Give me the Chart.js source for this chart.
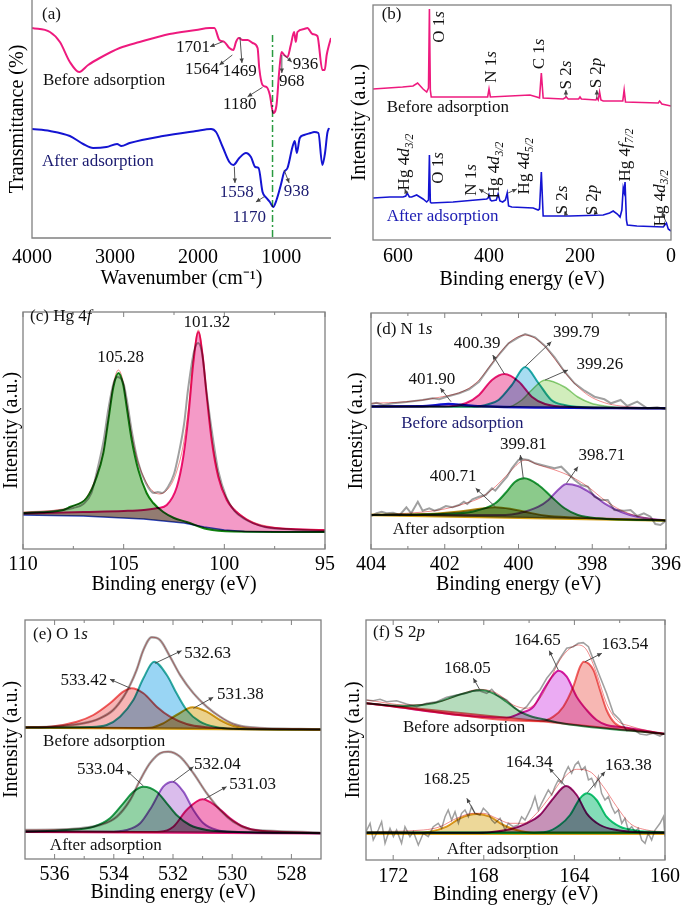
<!DOCTYPE html>
<html><head><meta charset="utf-8">
<script src="https://cdn.jsdelivr.net/npm/chart.js@4.4.1/dist/chart.umd.min.js"></script>
<style>
html,body{margin:0;padding:0;background:#fff;}
body{width:685px;height:911px;position:relative;overflow:hidden;}
.p{position:absolute;}
</style></head><body>
<div class="p" style="left:0;top:0;width:342px;height:300px"><canvas id="ca"></canvas></div>
<div class="p" style="left:342px;top:0;width:343px;height:300px"><canvas id="cb"></canvas></div>
<div class="p" style="left:0;top:300px;width:342px;height:310px"><canvas id="cc"></canvas></div>
<div class="p" style="left:342px;top:300px;width:343px;height:310px"><canvas id="cd"></canvas></div>
<div class="p" style="left:0;top:610px;width:342px;height:301px"><canvas id="ce"></canvas></div>
<div class="p" style="left:342px;top:610px;width:343px;height:301px"><canvas id="cf"></canvas></div>
<script>
// ---------- (a) FTIR ----------
const ftirTicks = [4000,3000,2000,1000];
const ftirBefore = [[4000,210],[3784,206],[3664,196],[3544,176],[3432,166],[3324,173],[3184,180],[2944,190],[2704,196],[2344,204],[2024,208],[1864,210],[1804,210],[1744,198],[1684,196],[1624,190],[1576,188],[1544,196],[1512,200],[1464,198],[1404,198],[1344,195],[1284,190],[1264,170],[1224,153],[1176,151],[1136,143],[1096,125],[1056,133],[1024,166],[996,186],[964,183],[924,181],[884,193],[844,206],[824,196],[804,206],[724,209],[684,210],[624,204],[564,202],[504,168],[476,168],[452,183],[424,193],[400,200]];
const ftirAfter = [[4000,109],[3784,107],[3544,102],[3384,94],[3264,90],[3104,91],[2976,94],[2924,92],[2824,95],[2424,102],[2024,107],[1844,109],[1784,106],[1704,91],[1624,76],[1576,73],[1504,80],[1424,85],[1364,81],[1312,71],[1272,70],[1224,46],[1176,40],[1136,36],[1096,31],[1056,38],[1004,53],[964,66],[924,70],[864,91],[836,97],[812,85],[776,100],[724,103],[644,105],[604,106],[552,105],[504,73],[472,85],[444,105],[424,110]];
const ftirRefLine = [[1104,203],[1104,0]];

// ---------- (b) survey ----------
const surveyTicks = [600,400,200,0];
const surveyBefore = [[655,151],[590,153],[567,154],[557,157],[545,151],[537,148],[533,152],[531,231],[529,150],[527,143],[515,143],[403,143],[400,151],[397,143],[310,145],[295,143],[289,142],[285,167],[281,142],[237,141],[230,143],[226,141],[203,141],[200,143],[197,141],[165,140],[163,142],[160,140],[157,148],[154,140],[149,139],[106,139],[103,150],[100,138],[28,137],[25,139],[20,136],[0,134]];
const surveyAfter = [[655,42],[618,43],[589,43],[583,44],[580,47],[575,43],[570,43],[559,45],[545,41],[537,38],[533,40],[531,85],[529,38],[527,37],[479,38],[405,41],[402,42],[400,45],[397,40],[394,39],[384,40],[380,46],[376,39],[370,38],[364,40],[360,47],[357,34],[350,33],[303,32],[292,30],[289,31],[285,68],[281,24],[222,24],[149,25],[135,27],[127,29],[118,26],[112,23],[108,30],[105,52],[103,48],[101,58],[98,20],[96,15],[75,14],[17,13],[12,16],[10,17],[6,11],[0,9]];

// ---------- (c) Hg 4f ----------
const hgTicks = [110,105,100,95];
const hgMinor = [107.5,102.5,97.5];
const hgBg = [[110,34],[107,33],[105,31],[104,30],[103,28],[102,26],[101,22],[100,19],[99,17.5],[97,17],[95,17]];
const hgPeak105 = [[110,36],[108,39],[107.67,42],[106.84,51],[106.34,72],[106.01,96],[105.76,129],[105.51,162],[105.26,176],[105.02,164],[104.85,142],[104.6,109],[104.27,79],[103.86,56],[103.53,46],[103.03,37],[102.5,31],[101.87,27],[100.87,20],[99.55,17.5],[95,17]];
const hgPeak101 = [[110,35.5],[107,37],[105,38],[104,39],[103.3,41],[102.86,44],[102.36,62],[102.04,92],[101.79,132],[101.54,186],[101.29,217],[101.07,192],[100.87,152],[100.63,109],[100.3,72],[99.88,49],[99.22,34],[97.9,22],[95,19]];
const hgRaw = [[110,36],[108,39],[107.5,41],[107,45],[106.6,56],[106.3,80],[106.0,108],[105.76,140],[105.5,166],[105.3,172],[105.0,165],[104.85,150],[104.6,118],[104.3,88],[103.9,66],[103.5,56],[103.3,57],[103.1,56],[102.8,62],[102.5,75],[102.3,92],[102.0,125],[101.8,160],[101.5,198],[101.3,206],[101.1,195],[100.9,160],[100.6,115],[100.3,78],[99.9,52],[99.5,38],[99,30],[98,22],[97,20],[95,18]];
const hgEnv = [[110,37],[108,40],[107.5,43],[106.84,52],[106.34,74],[106.01,98],[105.76,131],[105.51,165],[105.26,179],[105.02,167],[104.85,146],[104.6,114],[104.27,86],[103.86,66],[103.5,57],[103.2,55],[102.9,58],[102.6,66],[102.36,78],[102.04,104],[101.79,140],[101.54,190],[101.29,219],[101.07,194],[100.87,154],[100.63,111],[100.3,74],[99.88,51],[99.22,35],[97.9,23],[95,19]];

// ---------- (d) N 1s ----------
const nTicks = [404,402,400,398,396];
const nMinor = [403,401,399,397];
const nBeforeBg = [[404,142.5],[396,140.7]];
const nPeak40039 = [[404,142.5],[402,142.5],[401.43,145.7],[401.07,154],[400.72,169],[400.38,175],[399.99,167.3],[399.64,152.3],[399.28,145],[398.57,142],[396,140.7]];
const nPeak39979 = [[404,142.5],[401.2,142.3],[400.8,145],[400.54,149],[400.18,164],[399.82,182],[399.46,166],[399.11,149],[398.75,144],[398.3,142],[396,140.7]];
const nPeak39926 = [[404,142.5],[400.3,142],[399.91,149],[399.64,159],[399.28,169],[398.75,162],[398.39,152],[398.03,145.7],[397.67,143],[397.2,141.5],[396,140.7]];
const nPeak40190 = [[404,142.6],[402.6,142.8],[402.2,144],[401.9,145],[401.5,144],[401.1,142.8],[396,140.8]];
const nBeforeRaw = [[404,145],[403.85,146.3],[403.67,144],[403.4,145.7],[403.04,147],[402.6,149],[402.33,150.7],[402.15,149.7],[401.88,153],[401.61,155.7],[401.34,159.7],[401.07,167.3],[400.81,180.7],[400.54,194],[400.27,205.7],[400.0,211.7],[399.82,215],[399.55,211.7],[399.28,203],[399.02,191.7],[398.75,177.3],[398.48,165.7],[398.21,158.3],[397.94,152.3],[397.67,149.7],[397.49,145.7],[397.23,149],[397.05,143],[396.78,147.3],[396.51,140.7],[396.24,141.7],[396,139.7]];
const nBeforeEnv = [[404,145.7],[403.04,147.3],[402.15,151.7],[401.43,159],[401.07,169],[400.72,185.7],[400.36,202.3],[400.09,210.7],[399.82,214],[399.55,210.7],[399.28,202.3],[398.93,185.7],[398.57,169],[398.12,154],[397.67,146.3],[397.23,143],[396,140.7]];
const nAfterBg = [[404,34],[396,28.5]];
const nPeak40071 = [[404,34.2],[402.6,35],[402.2,35.6],[401.6,37.5],[401.1,40],[400.63,41.7],[400.2,40],[399.8,37],[399.3,33.5],[398.5,31.5],[396,28.5]];
const nPeak39981 = [[404,34],[402.15,35],[401.25,37.3],[400.63,45.7],[400.36,55.7],[400.09,67.3],[399.84,70.7],[399.46,64],[399.11,52.3],[398.75,40.7],[398.39,34],[397.85,30.7],[396,28.5]];
const nPeak39871 = [[404,34],[400.36,34],[400.0,35.7],[399.46,42.3],[399.19,49],[398.93,59],[398.7,65],[398.39,63],[398.03,55.7],[397.67,45.7],[397.23,37.3],[396.78,32.3],[396,28.5]];
const nAfterRaw = [[404,33],[403.85,35.7],[403.71,37.3],[403.58,35.7],[403.4,36.3],[403.22,34],[403.04,41.7],[402.91,35.7],[402.73,47.3],[402.6,38.3],[402.42,40.7],[402.28,38.3],[402.15,39.7],[401.97,43],[401.79,41.7],[401.61,44],[401.48,47.3],[401.39,45],[401.25,49.7],[401.07,52.3],[400.89,54],[400.72,60.7],[400.63,58.3],[400.45,66.3],[400.31,72.3],[400.18,80.7],[400.0,89],[399.87,89.7],[399.73,89],[399.55,85.7],[399.37,84],[399.19,82.3],[399.02,80.7],[398.84,82.3],[398.66,75.7],[398.48,69],[398.3,64],[398.12,62.3],[397.94,52.3],[397.76,49],[397.58,49],[397.4,39],[397.14,38.3],[396.96,39],[396.78,33],[396.6,35.7],[396.42,32.3],[396.29,25],[396.15,24],[396,28.3]];
const nAfterEnv = [[404,34],[403.04,35.7],[402.15,39],[401.43,45.7],[400.98,52.3],[400.63,62.3],[400.27,75.7],[400.0,85.7],[399.82,89],[399.46,84],[399.01,79],[398.57,72.3],[398.12,62.3],[397.67,49],[397.23,39],[396.78,33],[396,28.3]];

// ---------- (e) O 1s ----------
const oTicks = [536,534,532,530,528];
const oMinor = [535,533,531,529];
const oBeforeBg = [[537,131.5],[527,129.3]];
const oPeak53342 = [[537,131.6],[536.16,132.3],[535.25,137.3],[534.69,144],[534.13,155.7],[533.68,167.3],[533.40,170.7],[533.0,165.7],[532.55,152.3],[532.10,142.3],[531.54,135],[530.86,131.7],[529.96,130.3],[527,129.5]];
const oPeak53263 = [[537,131.5],[534.8,132],[534.24,134],[533.79,142.3],[533.34,159],[533.0,180.7],[532.64,197.3],[532.21,184],[531.88,165.7],[531.54,149],[531.09,137.3],[530.52,131.7],[529.96,130.3],[527,129.4]];
const oPeak53138 = [[537,131.5],[533.3,131],[532.78,131.2],[532.33,135.7],[531.88,144],[531.34,151.7],[530.86,147.3],[530.41,139],[529.96,133],[529.40,130.3],[527,129.4]];
const oBeforeEnv = [[537,131.7],[536.16,132.3],[535.03,135.7],[534.47,140.7],[534.02,149],[533.68,161.7],[533.45,174],[533.23,189],[533.0,209],[532.72,221.7],[532.44,219],[532.10,202.3],[531.76,184],[531.31,165.7],[530.86,152.3],[530.41,142.3],[529.96,135],[529.40,131.7],[527.03,129.7]];
const oAfterBg = [[537,27.3],[527,25.7]];
const oPeak53304 = [[537,27.5],[535.59,29],[534.69,32.3],[534.13,40.7],[533.68,55.7],[533.34,67.3],[533.0,72.3],[532.55,67.3],[532.21,55.7],[531.88,44],[531.43,34],[530.86,29],[529.96,27.3],[527,25.8]];
const oPeak53204 = [[537,27.3],[534.2,27.2],[533.57,29],[533.11,35.7],[532.72,52.3],[532.33,72.3],[532.01,77.3],[531.65,67.3],[531.31,49],[530.97,35.7],[530.52,29],[529.96,27],[527,25.8]];
const oPeak53103 = [[537,27.3],[533,27],[532.44,27.3],[531.99,32.3],[531.54,49],[531.0,59.7],[530.52,52.3],[530.07,40.7],[529.62,32.3],[529.06,28.3],[527,26]];
const oAfterEnv = [[537,29],[535.59,29.7],[534.47,34],[533.90,42.3],[533.45,59],[533.11,79],[532.78,95.7],[532.44,105.7],[532.16,107.3],[531.76,102.3],[531.31,85.7],[530.86,65.7],[530.41,49],[529.96,37.3],[529.40,29.7],[528.84,28.3],[527.03,26.3]];

// ---------- (f) S 2p ----------
const sTicks = [172,168,164,160];
const sMinor = [170,166,162];
const sBeforeBg = [[173.2,156.7],[160,126]];
const sPeak16805 = [[173.2,156.8],[172.5,155.3],[171.4,154],[170.23,156.7],[169.35,163.3],[168.61,168.3],[168.17,170],[167.58,166.7],[167.0,158.3],[166.4,148.3],[165.96,144],[165.22,140],[164.5,136.6],[160,126]];
const sPeak16465 = [[173.2,156.7],[167,142.3],[166.4,146.7],[165.81,153.3],[165.37,170],[164.93,185],[164.71,189.3],[164.34,183.3],[163.9,163.3],[163.46,150],[163.02,140],[162.58,135],[161.84,132.7],[160,126]];
const sPeak16354 = [[173.2,156.7],[165.5,138.8],[164.93,143.3],[164.49,153.3],[164.05,173.3],[163.75,193.3],[163.58,198.3],[163.16,190],[162.87,170],[162.58,150],[162.21,136.7],[161.69,131.7],[161,129],[160,126]];
const sBeforeRaw = [[173.2,160],[172.88,159.3],[172.58,160.7],[172.29,158.3],[171.85,159.3],[171.41,156],[170.96,153.3],[170.52,156.7],[170.08,158.3],[169.64,162.7],[169.2,165],[168.76,166.7],[168.46,169.3],[168.17,169],[167.87,166.7],[167.65,170.7],[167.43,165],[166.99,160],[166.7,153.3],[166.4,148.3],[166.11,153.3],[165.81,162.7],[165.52,170],[165.22,181.7],[164.93,190],[164.64,201.7],[164.34,211.7],[164.05,213.3],[163.83,216.7],[163.61,217.3],[163.38,213.3],[163.16,200],[162.87,183.3],[162.58,166.7],[162.28,146.7],[161.99,140],[161.69,129.3],[161.4,130.7],[161.1,126],[160.81,125],[160.52,126.7],[160.22,124],[160,127.3]];
const sBeforeEnv = [[173.17,160],[171.4,155],[169.93,158.3],[168.61,169],[168.17,170.7],[167.43,166.7],[166.7,155],[166.1,151.7],[165.52,161.7],[165.08,180],[164.64,200],[164.19,211.7],[163.83,215],[163.46,210],[163.02,186.7],[162.58,156.7],[162.13,140],[161.55,134],[160,126]];
const sAfterBg = [[173.2,27.3],[160,27.3]];
const sAfterBg2 = [[173.2,25.8],[160,25.8]];
const sPeak16825 = [[173.2,27.3],[170.9,27.5],[170.38,28.3],[169.64,33.3],[169.05,41.7],[168.31,46],[167.73,43.3],[167.14,35],[166.55,30],[165.81,27.3],[160,27.3]];
const sPeak16434 = [[173.2,27.3],[168.5,27.3],[167.73,27.8],[166.84,30.7],[166.11,36.7],[165.52,45],[164.93,61.7],[164.37,74],[163.9,65],[163.46,46.7],[162.87,35],[162.13,30],[161.1,27.7],[160,27.3]];
const sPeak16338 = [[173.2,27.3],[166,27.3],[165.22,28.3],[164.64,35],[164.19,45],[163.75,61.7],[163.43,66.7],[163.02,60],[162.58,43.3],[161.99,33.3],[161.25,29.3],[160,27.5]];
const sAfterRaw = [[173.2,28.3],[173.02,36.7],[172.88,20],[172.66,30],[172.51,38.3],[172.36,16.7],[172.14,31.7],[171.99,23.3],[171.85,30],[171.63,16.7],[171.48,33.3],[171.26,23.3],[171.11,28.3],[170.89,15],[170.67,26.7],[170.45,23.3],[170.23,33.3],[170.01,36.7],[169.86,31.7],[169.71,43.3],[169.57,50],[169.42,40],[169.27,48.3],[169.12,36.7],[168.98,46.7],[168.83,50],[168.68,43.3],[168.54,53.3],[168.39,46.7],[168.17,45],[168.02,51.7],[167.8,46.7],[167.65,40],[167.51,36.7],[167.28,41.7],[167.06,30],[166.92,36.7],[166.7,33.3],[166.48,35],[166.33,43.3],[166.18,40],[166.03,46.7],[165.89,53.3],[165.74,63.3],[165.59,50],[165.45,56.7],[165.3,63.3],[165.15,70],[165.0,65],[164.86,73.3],[164.71,80],[164.56,76.7],[164.42,86.7],[164.27,93.3],[164.12,86.7],[163.97,95],[163.83,98.3],[163.68,90],[163.53,93.3],[163.38,80],[163.24,81.7],[163.09,73.3],[162.94,83.3],[162.8,66.7],[162.65,60],[162.5,63.3],[162.35,53.3],[162.21,46.7],[162.06,50],[161.91,36.7],[161.77,41.7],[161.62,30],[161.47,33.3],[161.32,28.3],[161.18,31.7],[161.03,20],[160.88,16.7],[160.74,26.7],[160.59,20],[160.44,30],[160.22,36.7],[160.07,43.3],[160,23.3]];
const sAfterEnv = [[173.17,28.3],[170.67,30],[169.93,33.3],[169.2,41.7],[168.46,46.7],[168.02,46.7],[167.43,41.7],[166.84,36.7],[166.25,36.7],[165.67,46.7],[165.08,63.3],[164.49,81.7],[163.9,90.7],[163.31,88.3],[162.72,73.3],[162.13,53.3],[161.55,36.7],[160.81,30],[160,28.3]];

// ---------- helpers ----------
const FONT = '"Liberation Serif","Times New Roman",serif';
const NAVY = '#1a1a70', BLUE = '#1c1cb4', INK = '#111', ARW = '#444';
function parseRich(s){
  return s.split(/(\*[^*]+\*|_[^_]+_)/).filter(Boolean).map(t =>
    t[0]==='*' ? {t:t.slice(1,-1), it:true} : t[0]==='_' ? {t:t.slice(1,-1), it:true, sub:true} : {t});
}
function drawRich(ctx, str, x, y, align, rot, color, size){
  const segs = parseRich(str);
  ctx.save(); ctx.translate(x, y); if (rot) ctx.rotate(rot*Math.PI/180);
  ctx.textBaseline = 'middle'; ctx.textAlign = 'left'; ctx.fillStyle = color;
  let tot = 0;
  const m = segs.map(s => { const sz = s.sub ? size*0.68 : size; const f = (s.it?'italic ':'') + sz + 'px ' + FONT; ctx.font = f; const w = ctx.measureText(s.t).width; tot += w; return {s, f, w}; });
  let cx = align === 'l' ? 0 : -tot/2;
  m.forEach(o => { ctx.font = o.f; ctx.fillText(o.s.t, cx, o.s.sub ? size*0.3 : 0); cx += o.w; });
  ctx.restore();
}
function drawArrow(ctx, x1, y1, x2, y2, color){
  const a = Math.atan2(y2-y1, x2-x1), h = 5;
  ctx.save(); ctx.strokeStyle = color; ctx.fillStyle = color; ctx.lineWidth = 0.9;
  ctx.beginPath(); ctx.moveTo(x1, y1); ctx.lineTo(x2, y2); ctx.stroke();
  ctx.beginPath(); ctx.moveTo(x2, y2);
  ctx.lineTo(x2 - h*Math.cos(a-0.45), y2 - h*Math.sin(a-0.45));
  ctx.lineTo(x2 - h*Math.cos(a+0.45), y2 - h*Math.sin(a+0.45));
  ctx.closePath(); ctx.fill(); ctx.restore();
}

const DECO = {
  ca: { box:false, labels:[
      ['(a)',3880,223,'l',0,INK],['Before adsorption',3868,157,'l',0,INK],['After adsorption',3880,76,'l',0,NAVY],
      ['1701',2062,190,'c',0,INK],['1564',1954,168,'c',0,INK],['1469',1498,166,'c',0,INK],['1180',1498,133,'c',0,INK],
      ['968',874,156,'c',0,INK],['936',706,173,'c',0,INK],['1558',1534,45,'c',0,NAVY],['1170',1384,20,'c',0,NAVY],['938',814,46,'c',0,NAVY]],
    arrows:[[1704,196.3,1856,191.3],[1588,183,1744,173],[1496,201,1472,175],[1224,150.7,1404,141.3],[992,183,992,165],[964,183,872,176],[1564,71.3,1556,55],[1204,41.3,1304,36],[964,68,904,55]] },
  cb: { box:true, labels:[
      ['(b)',636,225,'l',0,INK],['O 1*s*',508,213,'c',-90,INK],['N 1*s*',394,173,'c',-90,INK],['C 1*s*',288,186,'c',-90,INK],
      ['S 2*s*',229,165,'c',-90,INK],['S 2*p*',163,167,'c',-90,INK],['Before adsorption',625,132,'l',0,INK],
      ['Hg 4*d*_3/2_',585,78,'c',-90,INK],['O 1*s*',510,72,'c',-90,INK],['N 1*s*',438,60,'c',-90,INK],['Hg 4*d*_3/2_',387,70,'c',-90,INK],
      ['Hg 4*d*_5/2_',321,74,'c',-90,INK],['S 2*s*',238,40,'c',-90,INK],['S 2*p*',172,40,'c',-90,INK],['Hg 4*f*_7/2_',101,85,'c',-90,INK],
      ['Hg 4*d*_3/2_',24,42,'c',-90,INK],['After adsorption',625,23,'l',0,BLUE]],
    arrows:[[231,143,231,150],[163,141,163,150],[581,46,585,51],[400,45,422,51],[358,47,339,51],[231,25,233,29],[165,26,168,30],[11,18,20,28]] },
  cc: { box:true, major:hgTicks, minor:hgMinor, labels:[
      ['(c) Hg 4*f*',109.65,232,'l',0,INK],['105.28',105.15,191.7,'c',0,INK],['101.32',100.87,226.3,'c',0,INK]], arrows:[] },
  cd: { box:true, major:nTicks, minor:nMinor, labels:[
      ['(d) N 1*s*',403.85,219.7,'l',0,INK],['400.39',401.12,205.7,'c',0,INK],['399.79',398.43,216.3,'c',0,INK],['399.26',397.79,184,'c',0,INK],
      ['401.90',402.35,169,'c',0,INK],['Before adsorption',403.18,125.7,'l',0,NAVY],['400.71',401.77,72.3,'c',0,INK],['399.81',399.87,104,'c',0,INK],
      ['398.71',397.74,93,'c',0,INK],['After adsorption',403.41,19,'l',0,INK]],
    arrows:[[400.38,175,400.7,194],[399.82,182.3,399.11,207.3],[399.28,169,398.66,179],[401.83,147.3,402.12,161],[400.63,42.3,401.16,60.7],[399.87,70.7,399.95,94],[398.7,65.7,398.39,82.3]] },
  ce: { box:true, major:oTicks, minor:oMinor, labels:[
      ['(e) O 1*s*',536.73,224,'l',0,INK],['533.42',535.01,178.3,'c',0,INK],['532.63',530.83,205.7,'c',0,INK],['531.38',529.72,164,'c',0,INK],
      ['Before adsorption',536.39,117.3,'l',0,INK],['533.04',534.45,89,'c',0,INK],['532.04',530.5,94,'c',0,INK],['531.03',529.31,74,'c',0,INK],
      ['After adsorption',536.16,13,'l',0,INK]],
    arrows:[[533.43,170.7,534.13,179.7],[532.61,195.7,531.71,208.3],[531.31,150.7,530.64,161.7],[533.0,73,533.56,88.3],[531.99,77.3,531.31,92.3],[530.95,59.7,530.19,72.3]] },
  cf: { box:true, major:sTicks, minor:sMinor, labels:[
      ['(f) S 2*p*',172.89,227,'l',0,INK],['168.05',168.72,191.7,'c',0,INK],['164.65',165.63,219.3,'c',0,INK],['163.54',161.77,215.7,'c',0,INK],
      ['Before adsorption',171.57,132.7,'l',0,INK],['168.25',169.64,80,'c',0,INK],['164.34',166.0,97.3,'c',0,INK],['163.38',161.62,94,'c',0,INK],
      ['After adsorption',169.64,10.7,'l',0,INK]],
    arrows:[[168.17,170,168.46,181.7],[164.71,190,165.11,209.3],[163.53,198.3,162.79,206.7],[168.39,46.7,168.75,61.7],[164.4,74,165.11,91.7],[163.43,67.3,162.65,88.3]] }
};

const decoPlugin = {
  id: 'deco',
  beforeDatasetsDraw(chart){ chart.ctx.save(); chart.ctx.globalCompositeOperation = 'multiply'; },
  afterDatasetsDraw(chart){ chart.ctx.restore(); },
  afterDraw(chart){
    const d = DECO[chart.canvas.id]; if (!d) return;
    const ctx = chart.ctx, a = chart.chartArea, xs = chart.scales.x, ys = chart.scales.y;
    ctx.save();
    ctx.strokeStyle = '#808080'; ctx.lineWidth = 1.3;
    if (d.box) { ctx.strokeRect(a.left, a.top, a.right - a.left, a.bottom - a.top); }
    else { ctx.beginPath(); ctx.moveTo(a.left, a.top); ctx.lineTo(a.left, a.bottom); ctx.lineTo(a.right, a.bottom); ctx.stroke(); }
    const tick = (vals, len) => (vals || []).forEach(v => {
      const px = xs.getPixelForValue(v);
      ctx.beginPath(); ctx.moveTo(px, a.bottom); ctx.lineTo(px, a.bottom - len);
      ctx.moveTo(px, a.top); ctx.lineTo(px, a.top + len); ctx.stroke();
    });
    ctx.lineWidth = 1; tick(d.major, 5); tick(d.minor, 3);
    d.arrows.forEach(r => drawArrow(ctx, xs.getPixelForValue(r[0]), ys.getPixelForValue(r[1]), xs.getPixelForValue(r[2]), ys.getPixelForValue(r[3]), ARW));
    d.labels.forEach(l => drawRich(ctx, l[0], xs.getPixelForValue(l[1]), ys.getPixelForValue(l[2]), l[3], l[4], l[5], 17));
    ctx.restore();
  }
};

function build(id, spec){
  const n = spec.series.length;
  const datasets = spec.series.map((s, i) => ({
    data: s.d.map(p => ({x: p[0], y: p[1]})),
    borderColor: s.c, borderWidth: s.w === undefined ? 1.5 : s.w,
    backgroundColor: s.f || 'rgba(0,0,0,0)',
    fill: s.to !== undefined ? {target: s.to} : false,
    pointRadius: 0, borderDash: s.dash || [],
    tension: s.sm ? 0.4 : 0, cubicInterpolationMode: s.sm ? 'monotone' : 'default',
    order: n - i
  }));
  new Chart(document.getElementById(id), {
    type: 'line', data: {datasets}, plugins: [decoPlugin],
    options: {
      responsive: true, maintainAspectRatio: false, animation: false, events: [],
      layout: {padding: {top: spec.pt, right: spec.pr, left: 0, bottom: 0}},
      plugins: {legend: {display: false}, tooltip: {enabled: false}},
      scales: {
        x: {type: 'linear', reverse: true, min: spec.xmin, max: spec.xmax,
          afterBuildTicks: sc => { sc.ticks = spec.ticks.map(v => ({value: v})); },
          afterFit: sc => { sc.height = spec.xh; },
          ticks: {autoSkip: false, maxRotation: 0, minRotation: 0, padding: spec.tp, color: '#000', font: {family: FONT, size: 20}, callback: v => String(v)},
          grid: {display: false, drawTicks: false}, border: {display: false},
          title: {display: true, text: spec.xt, color: '#000', font: {family: FONT, size: 20}, padding: {top: 0, bottom: spec.xtp}}},
        y: {type: 'linear', min: 0, max: spec.ymax,
          afterFit: sc => { sc.width = spec.yw; },
          ticks: {display: false}, grid: {display: false, drawTicks: false}, border: {display: false},
          title: {display: true, text: spec.yt, color: '#000', font: {family: FONT, size: 20}, padding: {top: spec.ytp, bottom: 0}}}
      }
    }
  });
}

const PINK = '#ee1a7e', BLU = '#1414d2', GRAY = '#a0a0a0', ENV = '#f08c8c';

build('ca', {pt:0, pr:11, yw:32, xh:62, tp:8, xtp:9, ytp:6, ymax:238, xmin:400, xmax:4000, ticks:ftirTicks,
  xt:'Wavenumber (cm\u207B\u00B9)', yt:'Transmittance (%)', series:[
  {d:ftirBefore, c:PINK, w:2, sm:true},
  {d:ftirAfter, c:BLU, w:2, sm:true},
  {d:ftirRefLine, c:'#2a9a40', w:1.5, dash:[7,3,2,3]}]});

build('cb', {pt:5, pr:14, yw:31, xh:60, tp:5, xtp:8, ytp:6, ymax:235, xmin:0, xmax:655, ticks:surveyTicks,
  xt:'Binding energy (eV)', yt:'Intensity (a.u.)', series:[
  {d:surveyBefore, c:PINK, w:1.6},
  {d:surveyAfter, c:BLU, w:1.6}]});

build('cc', {pt:12, pr:17, yw:23, xh:61, tp:4, xtp:13, ytp:0, ymax:237, xmin:95, xmax:110, ticks:hgTicks,
  xt:'Binding energy (eV)', yt:'Intensity (a.u.)', series:[
  {d:hgBg, c:'#3048c8', w:1.5},
  {d:hgRaw, c:GRAY, w:2, sm:true},
  {d:hgEnv, c:ENV, w:1, sm:true},
  {d:hgPeak105, c:'#118811', w:2, sm:true, f:'rgba(120,190,110,0.75)', to:0},
  {d:hgPeak101, c:'#f01478', w:2, sm:true, f:'rgba(240,120,180,0.75)', to:0}]});

build('cd', {pt:13, pr:16, yw:29, xh:61, tp:4, xtp:13, ytp:3, ymax:236, xmin:396, xmax:404, ticks:nTicks,
  xt:'Binding energy (eV)', yt:'Intensity (a.u.)', series:[
  {d:nBeforeBg, c:'rgba(0,0,0,0)', w:0},
  {d:nPeak40039, c:'#e8197a', w:2, sm:true, f:'rgba(240,110,170,0.7)', to:0},
  {d:nPeak39979, c:'#20b0a8', w:2, sm:true, f:'rgba(130,205,235,0.7)', to:0},
  {d:nPeak39926, c:'#90d080', w:1.5, sm:true, f:'rgba(190,230,160,0.7)', to:0},
  {d:nPeak40190, c:'#1010d0', w:2.5, sm:true},
  {d:nBeforeRaw, c:GRAY, w:2},
  {d:nBeforeEnv, c:ENV, w:1, sm:true},
  {d:nAfterBg, c:'#d4a017', w:2.5},
  {d:nPeak40071, c:'#b08a10', w:2, sm:true, f:'rgba(150,140,40,0.7)', to:7},
  {d:nPeak39981, c:'#20a040', w:2, sm:true, f:'rgba(90,180,90,0.7)', to:7},
  {d:nPeak39871, c:'#a060c8', w:2, sm:true, f:'rgba(200,160,225,0.7)', to:7},
  {d:nAfterRaw, c:GRAY, w:2},
  {d:nAfterEnv, c:ENV, w:1, sm:true}]});

build('ce', {pt:10, pr:21, yw:25, xh:52, tp:4, xtp:6, ytp:0, ymax:239, xmin:527, xmax:537, ticks:oTicks,
  xt:'Binding energy (eV)', yt:'Intensity (a.u.)', series:[
  {d:oBeforeBg, c:'#d4a017', w:2.5},
  {d:oPeak53342, c:'#f06060', w:2, sm:true, f:'rgba(244,150,150,0.7)', to:0},
  {d:oPeak53263, c:'#30b0a0', w:2, sm:true, f:'rgba(110,195,240,0.7)', to:0},
  {d:oPeak53138, c:'#d4a017', w:2, sm:true, f:'rgba(225,190,90,0.7)', to:0},
  {d:oBeforeEnv, c:'#a8a8a8', w:2.5, sm:true},
  {d:oBeforeEnv, c:ENV, w:1, sm:true},
  {d:oAfterBg, c:'#e8197a', w:2.5},
  {d:oPeak53304, c:'#20a050', w:2, sm:true, f:'rgba(110,195,135,0.75)', to:6},
  {d:oPeak53204, c:'#9a60c8', w:2, sm:true, f:'rgba(205,165,230,0.75)', to:6},
  {d:oPeak53103, c:'#e8197a', w:2, sm:true, f:'rgba(240,100,170,0.75)', to:6},
  {d:oAfterEnv, c:'#a8a8a8', w:2.5, sm:true},
  {d:oAfterEnv, c:ENV, w:1, sm:true}]});

build('cf', {pt:10, pr:20, yw:24, xh:51, tp:5, xtp:4, ytp:0, ymax:240, xmin:160, xmax:173.2, ticks:sTicks,
  xt:'Binding energy (eV)', yt:'Intensity (a.u.)', series:[
  {d:sBeforeBg, c:'#f06868', w:2},
  {d:sPeak16805, c:'#40a060', w:2, sm:true, f:'rgba(150,205,160,0.7)', to:0},
  {d:sPeak16465, c:'#d81ba0', w:2, sm:true, f:'rgba(230,150,240,0.8)', to:0},
  {d:sPeak16354, c:'#f06868', w:2, sm:true, f:'rgba(245,165,160,0.8)', to:0},
  {d:sBeforeRaw, c:GRAY, w:1.6},
  {d:sBeforeEnv, c:ENV, w:1, sm:true},
  {d:sAfterBg2, c:'#e0a020', w:1.5},
  {d:sAfterBg, c:'#20c060', w:2.5},
  {d:sPeak16825, c:'#e0a020', w:2, sm:true, f:'rgba(230,200,110,0.7)', to:7},
  {d:sPeak16434, c:'#a0106e', w:2, sm:true, f:'rgba(180,110,160,0.75)', to:7},
  {d:sPeak16338, c:'#10c878', w:2, sm:true, f:'rgba(90,210,160,0.75)', to:7},
  {d:sAfterRaw, c:GRAY, w:1.5},
  {d:sAfterEnv, c:ENV, w:1, sm:true}]});
</script>
</body></html>
